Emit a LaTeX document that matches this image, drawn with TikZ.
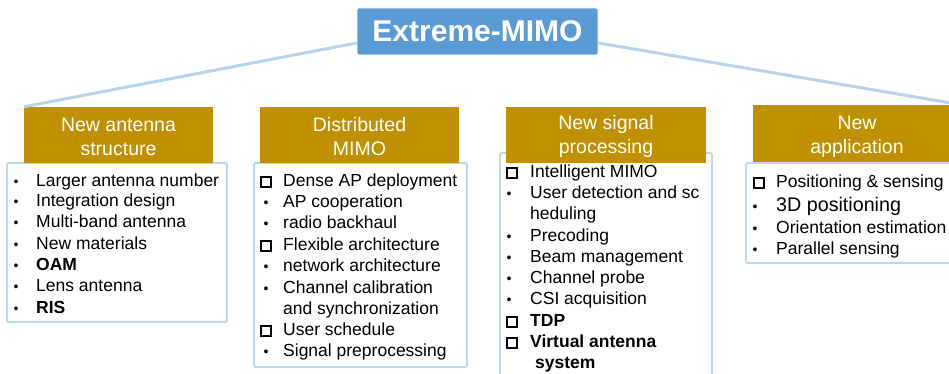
\documentclass[tikz,border=0pt]{standalone}
\usepackage{fontspec}
\setmainfont{Liberation Sans}
\definecolor{gold}{HTML}{BF9000}
\definecolor{titleblue}{HTML}{5B9BD5}
\definecolor{linkblue}{HTML}{B8D3EE}
\definecolor{boxblue}{HTML}{BDD7EE}
\newcommand\bl[1]{\makebox[#1][l]{\raisebox{-0.3pt}{\fontsize{14}{14}\selectfont\textbullet}}}
\newcommand\sq[1]{\makebox[#1][l]{\raisebox{0.4pt}{\setlength\fboxrule{2pt}\setlength\fboxsep{0pt}\fbox{\rule{0pt}{7.8pt}\hspace{7.8pt}}}}}
\begin{document}
\begin{tikzpicture}[x=1pt,y=-1pt,
  conn/.style={draw=linkblue,line width=3pt},
  titlebox/.style={fill=titleblue,draw=white,line width=0.8pt,rounded corners=2pt,text=white,
    font=\fontsize{30}{34}\selectfont\bfseries,inner sep=0,minimum width=241pt,minimum height=47pt},
  head/.style={fill=gold,inner sep=0,minimum height=56pt},
  headtext/.style={text=white,font=\fontsize{19.5}{24}\selectfont,align=center,inner sep=0},
  listbox/.style={draw=boxblue,line width=1.8pt,rounded corners=1.5pt,fill=white,inner sep=0},
  item/.style={anchor=west,inner sep=0,font=\fontsize{17.5}{20}\selectfont,text height=12.5pt,text depth=0pt},
  bigitem/.style={item,font=\fontsize{19.7}{22}\selectfont,text height=14.1pt}]
\useasboundingbox (0,0) rectangle (949,374);
\clip (0,0) rectangle (949,374);

% list boxes
\node[listbox,minimum width=220pt,minimum height=159pt] (b1) at (117,242.5) {};
\node[listbox,minimum width=213pt,minimum height=204pt] (b2) at (360.5,265) {};
\node[listbox,minimum width=212pt,minimum height=237pt] (b3) at (606,271.5) {};
\node[listbox,minimum width=219pt,minimum height=100pt] (b4) at (855.5,213) {};

% headers
\node[head,minimum width=189pt] (h1) at (118.5,135) {};
\node[head,minimum width=199pt] (h2) at (359.5,135) {};
\node[head,minimum width=200pt] (h3) at (606,135) {};
\node[head,minimum width=208pt,minimum height=57pt] (h4) at (857,133.5) {};
\node[headtext] (h1t) at ([yshift=-1.5pt]h1.center) {New antenna\\structure};
\node[headtext] (h2t) at ([yshift=-1.5pt]h2.center) {Distributed\\MIMO};
\node[headtext] (h3t) at ([yshift=-1.5pt]h3.center) {New signal\\processing};
\node[headtext] (h4t) at ([yshift=-3.5pt]h4.center) {New\\application};

% title
\node[titlebox] (title) at (477.5,31.5) {Extreme-MIMO};
\draw[conn] ([yshift=-11.5pt]title.west) -- (h1.north west);
\draw[conn] ([yshift=-11.5pt]title.east) -- (h4.north east);

% box 1
\node[item] (a1) at (13.5,180) {\bl{22.5pt}Larger antenna number};
\node[item] (a2) at (13.5,200) {\bl{22.5pt}Integration design};
\node[item] (a3) at (13.5,221) {\bl{22.5pt}Multi-band antenna};
\node[item] (a4) at (13.5,243) {\bl{22.5pt}New materials};
\node[item] (a5) at (13.5,264) {\bl{22.5pt}\textbf{OAM}};
\node[item] (a6) at (13.5,285) {\bl{22.5pt}Lens antenna};
\node[item] (a7) at (13.5,307) {\bl{22.5pt}\textbf{RIS}};

% box 2
\node[item] (c1) at (260,180) {\sq{23pt}Dense AP deployment};
\node[item] (c2) at (263.5,201) {\bl{19.5pt}AP cooperation};
\node[item] (c3) at (263.5,222) {\bl{19.5pt}radio backhaul};
\node[item] (c4) at (260,244) {\sq{23pt}Flexible architecture};
\node[item] (c5) at (263.5,265) {\bl{19.5pt}network architecture};
\node[item] (c6) at (263.5,287) {\bl{19.5pt}Channel calibration};
\node[item] (c6b) at (283,308) {and synchronization};
\node[item] (c7) at (260,329) {\sq{23pt}User schedule};
\node[item] (c8) at (263.5,350) {\bl{19.5pt}Signal preprocessing};

% box 3
\node[item] (d1) at (505.5,171) {\sq{24.5pt}Intelligent MIMO};
\node[item] (d2) at (506.5,192) {\bl{23.5pt}User detection and sc};
\node[item] (d2b) at (530,213) {heduling};
\node[item] (d3) at (506.5,235) {\bl{23.5pt}Precoding};
\node[item] (d4) at (506.5,256) {\bl{23.5pt}Beam management};
\node[item] (d5) at (506.5,277) {\bl{23.5pt}Channel probe};
\node[item] (d6) at (506.5,298) {\bl{23.5pt}CSI acquisition};
\node[item] (d7) at (505.5,320) {\sq{24.5pt}\textbf{TDP}};
\node[item] (d8) at (505.5,341) {\sq{24.5pt}\textbf{Virtual antenna}};
\node[item] (d8b) at (535,362) {\textbf{system}};

% box 4
\node[item] (e1) at (752.5,181) {\sq{23.5pt}Positioning \& sensing};
\node[bigitem] (e2) at (752.5,204) {\bl{23.5pt}3D positioning};
\node[item] (e3) at (752.5,227) {\bl{23.5pt}Orientation estimation};
\node[item] (e4) at (752.5,248) {\bl{23.5pt}Parallel sensing};
\end{tikzpicture}
\end{document}
